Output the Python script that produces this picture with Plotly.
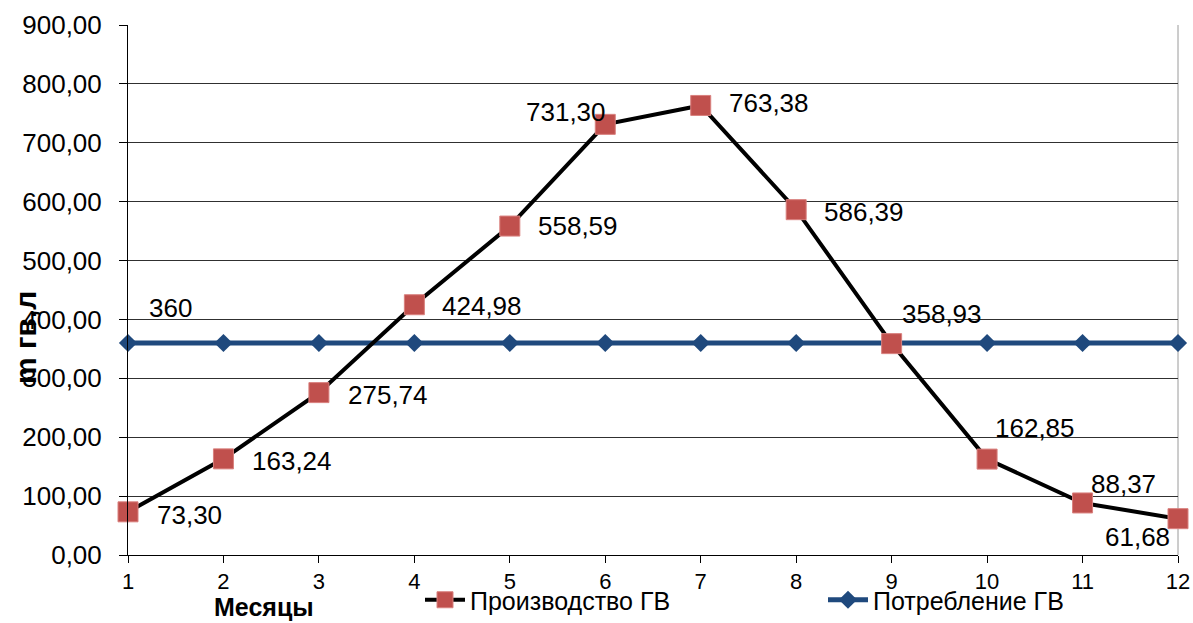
import plotly.graph_objects as go

# Monthly hot-water production vs. consumption
months = [1, 2, 3, 4, 5, 6, 7, 8, 9, 10, 11, 12]
production = [73.30, 163.24, 275.74, 424.98, 558.59, 731.30, 763.38, 586.39, 358.93, 162.85, 88.37, 61.68]
consumption = [360, 360, 360, 360, 360, 360, 360, 360, 360, 360, 360, 360]
y_ticks = [0, 100, 200, 300, 400, 500, 600, 700, 800, 900]

name_prod = "Производство ГВ"
name_cons = "Потребление ГВ"
x_title = "Месяцы"
y_title = "m гв,л"

FONT = "Arial, Liberation Sans, sans-serif"
RED = "#C0504D"
NAVY = "#1F497D"

# plot area in pixels
L, R, T, B = 128, 15, 25, 68
W, H = 1193, 623
PW, PH = W - L - R, H - T - B


def fmt(v):
    return f"{v:.2f}".replace(".", ",")


# label placement per production point: (xanchor, xshift, yshift)
prod_label_pos = [
    ("left", 27, -3), ("left", 27, -2), ("left", 27, -2), ("left", 26, -1),
    ("left", 26, 0), ("right", 3, 12), ("left", 26, 2), ("left", 26, -2),
    ("left", 8, 30), ("left", 6, 31), ("left", 6, 19), ("right", -6, -18),
]

fig = go.Figure()

fig.add_trace(go.Scatter(
    x=months, y=consumption, name=name_cons, mode="lines+markers",
    line=dict(color=NAVY, width=5),
    marker=dict(symbol="diamond", size=14, color=NAVY),
    cliponaxis=False,
))
fig.add_trace(go.Scatter(
    x=months, y=production, name=name_prod, mode="lines+markers",
    line=dict(color="black", width=4),
    marker=dict(symbol="square", size=20, color=RED,
                line=dict(color="#D9807E", width=1)),
    cliponaxis=False,
))

annotations = []
for m, v, (anc, dx, dy) in zip(months, production, prod_label_pos):
    annotations.append(dict(
        x=m, y=v, text=fmt(v), showarrow=False, xanchor=anc, yanchor="middle",
        xshift=dx, yshift=dy, font=dict(family=FONT, size=26, color="black"),
    ))
annotations.append(dict(
    x=months[0], y=consumption[0], text=str(consumption[0]), showarrow=False,
    xanchor="left", yanchor="middle", xshift=19, yshift=35,
    font=dict(family=FONT, size=26, color="black"),
))
# axis titles
annotations.append(dict(
    x=(212 - L) / PW, y=(H - B - 607) / PH, xref="paper", yref="paper",
    text=f"<b>{x_title}</b>", showarrow=False, xanchor="left", yanchor="middle",
    font=dict(family=FONT, size=25, color="black"),
))
annotations.append(dict(
    x=(25 - L) / PW, y=(H - B - 338) / PH, xref="paper", yref="paper",
    text=f"<b>{y_title}</b>", textangle=-90, showarrow=False,
    xanchor="center", yanchor="middle",
    font=dict(family=FONT, size=30, color="black"),
))

fig.update_layout(
    width=W, height=H,
    margin=dict(l=L, r=R, t=T, b=B, autoexpand=False),
    paper_bgcolor="white", plot_bgcolor="white",
    separators=", ",
    font=dict(family=FONT, color="black"),
    showlegend=True,
    legend=dict(
        orientation="h", x=(420 - L) / PW, xanchor="left",
        y=(H - B - 623) / PH, yanchor="bottom",
        font=dict(family=FONT, size=25, color="black"),
        bgcolor="rgba(0,0,0,0)", itemwidth=40, borderwidth=0,
        entrywidth=348, entrywidthmode="pixels",
        traceorder="reversed",
    ),
    annotations=annotations,
)

fig.update_xaxes(
    range=[1, 12], tickmode="array", tickvals=months,
    ticktext=[str(m) for m in months],
    showgrid=False, zeroline=False, showline=True, linecolor="black", linewidth=1,
    ticks="outside", ticklen=7, tickcolor="black",
    tickfont=dict(family=FONT, size=22, color="black"),
)
fig.update_yaxes(
    range=[0, 900], tickmode="array", tickvals=y_ticks,
    ticktext=[fmt(t) for t in y_ticks],
    showgrid=True, gridcolor="#303030", gridwidth=1,
    zeroline=False, showline=True, linecolor="black", linewidth=1,
    ticks="outside", ticklen=8, tickcolor="black", ticklabelstandoff=12,
    tickfont=dict(family=FONT, size=26, color="black"),
)

# right border of the plot area
fig.add_shape(type="line", xref="paper", yref="paper", x0=1, x1=1, y0=0, y1=1,
              line=dict(color="#9A9A9A", width=1), layer="below")

fig.write_html("out.html")
